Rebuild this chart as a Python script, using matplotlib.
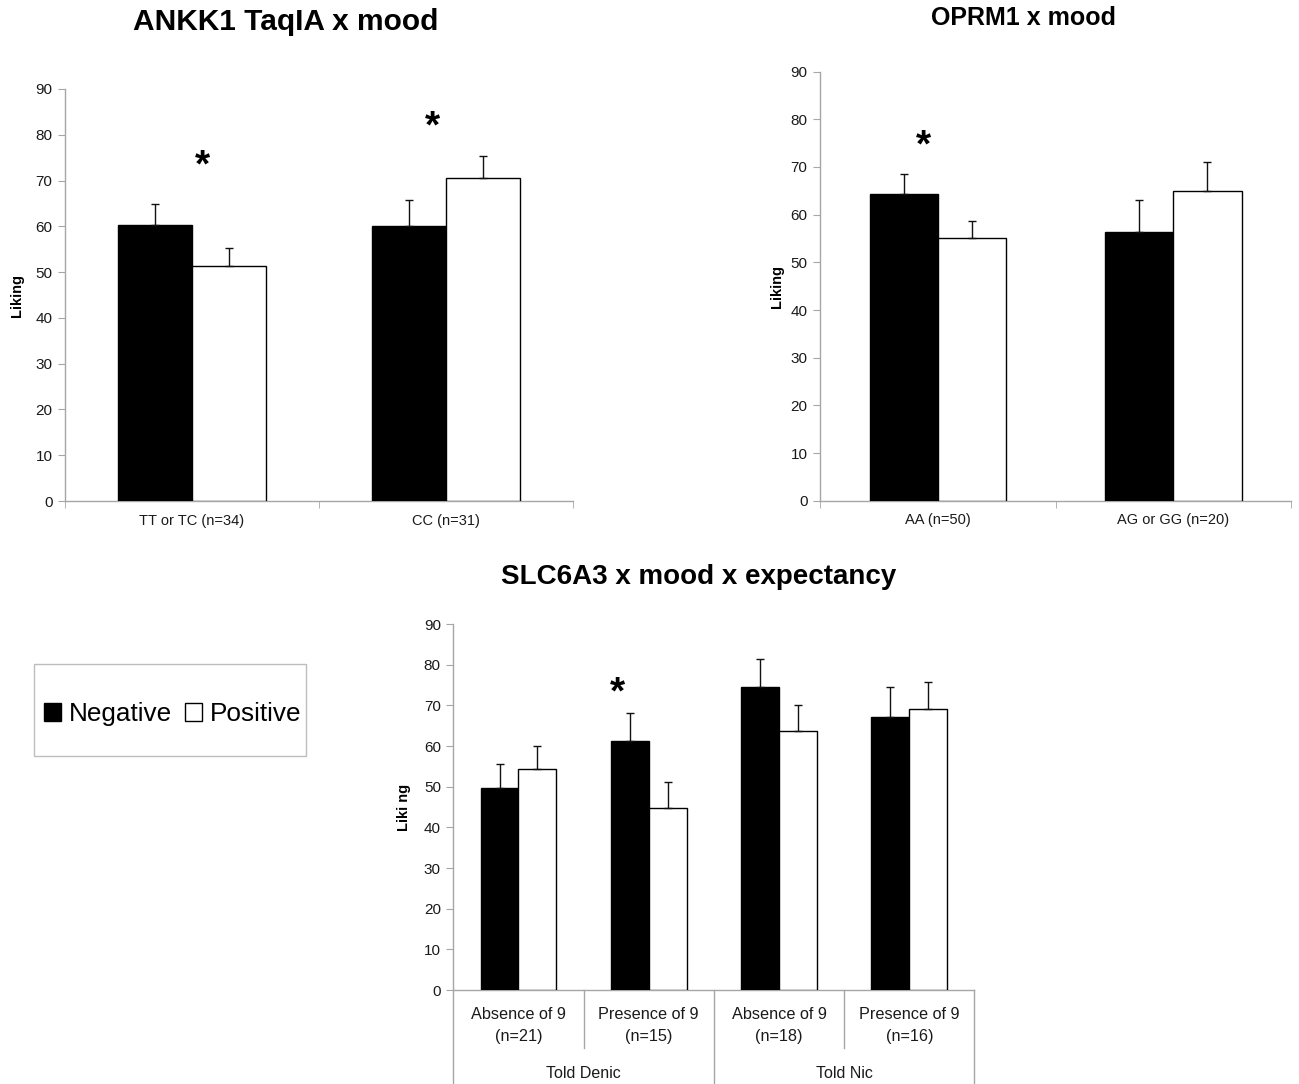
import matplotlib.pyplot as plt
from matplotlib.patches import Patch, Rectangle

plt.rcParams["font.family"] = ["Liberation Sans", "DejaVu Sans"]

# ANKK1 TaqIA x mood
ankk1_groups = ["TT or TC (n=34)", "CC (n=31)"]
ankk1_neg = [60.3, 60.0]
ankk1_neg_err = [4.5, 5.8]
ankk1_pos = [51.3, 70.5]
ankk1_pos_err = [3.9, 4.8]

# OPRM1 x mood
oprm1_groups = ["AA (n=50)", "AG or GG (n=20)"]
oprm1_neg = [64.3, 56.3]
oprm1_neg_err = [4.2, 6.7]
oprm1_pos = [55.1, 64.9]
oprm1_pos_err = [3.6, 6.1]

# SLC6A3 x mood x expectancy
slc_groups = ["Absence of 9\n(n=21)", "Presence of 9\n(n=15)",
              "Absence of 9\n(n=18)", "Presence of 9\n(n=16)"]
slc_outer = ["Told Denic", "Told Nic"]
slc_neg = [49.7, 61.2, 74.5, 67.1]
slc_neg_err = [5.9, 6.9, 7.0, 7.3]
slc_pos = [54.4, 44.8, 63.8, 69.0]
slc_pos_err = [5.6, 6.3, 6.2, 6.7]

AXIS_GREY = "#a6a6a6"
BAR_W = 0.29


def draw_panel(ax, n, neg, neg_err, pos, pos_err, ylabel):
    xs = list(range(n))
    err_kw = dict(ecolor="#111111", elinewidth=1.0, capsize=3.2, capthick=1.0)
    ax.bar([x - BAR_W / 2 for x in xs], neg, BAR_W, color="black",
           edgecolor="black", linewidth=1.0,
           yerr=[[0] * n, neg_err], error_kw=err_kw, zorder=3)
    ax.bar([x + BAR_W / 2 for x in xs], pos, BAR_W, color="white",
           edgecolor="black", linewidth=1.0,
           yerr=[[0] * n, pos_err], error_kw=err_kw, zorder=3)
    ax.set_xlim(-0.5, n - 0.5)
    ax.set_ylim(0, 90)
    ax.set_yticks(range(0, 91, 10))
    for side in ("top", "right"):
        ax.spines[side].set_visible(False)
    for side in ("left", "bottom"):
        ax.spines[side].set_color(AXIS_GREY)
        ax.spines[side].set_linewidth(1.0)
    ax.tick_params(axis="y", colors=AXIS_GREY, labelcolor="#1a1a1a",
                   labelsize=11, length=5, pad=4)
    ax.set_ylabel(ylabel, fontsize=10.5, fontweight="bold")
    ax.set_xticks(xs)


def star(ax, x, y):
    ax.text(x, y, "*", ha="center", va="center", fontsize=28,
            fontweight="bold", zorder=5)


fig = plt.figure(figsize=(12.99, 10.84), dpi=100)

# top-left
ax1 = fig.add_axes([0.0500, 0.5378, 0.3911, 0.3801])
draw_panel(ax1, 2, ankk1_neg, ankk1_neg_err, ankk1_pos, ankk1_pos_err, "Liking")
ax1.set_xticklabels(ankk1_groups)
ax1.set_xticks([-0.5, 0.5, 1.5], minor=True)
ax1.tick_params(axis="x", which="major", length=0, pad=9, labelsize=10.5,
                labelcolor="#1a1a1a")
ax1.tick_params(axis="x", which="minor", length=5, color=AXIS_GREY)
ax1.yaxis.set_label_coords(-0.081, 0.5)
star(ax1, 0.043, 73.0)
star(ax1, 0.945, 81.7)

# top-right
ax2 = fig.add_axes([0.6313, 0.5381, 0.3626, 0.3958])
draw_panel(ax2, 2, oprm1_neg, oprm1_neg_err, oprm1_pos, oprm1_pos_err, "Liking")
ax2.set_xticklabels(oprm1_groups)
ax2.set_xticks([-0.5, 0.5, 1.5], minor=True)
ax2.tick_params(axis="x", which="major", length=0, pad=9, labelsize=10.5,
                labelcolor="#1a1a1a")
ax2.tick_params(axis="x", which="minor", length=5, color=AXIS_GREY)
ax2.yaxis.set_label_coords(-0.0765, 0.5)
star(ax2, -0.063, 74.4)

# bottom
ax3 = fig.add_axes([0.3490, 0.0867, 0.4011, 0.3376])
draw_panel(ax3, 4, slc_neg, slc_neg_err, slc_pos, slc_pos_err, "Liki ng")
ax3.set_xticklabels(slc_groups, linespacing=1.6)
ax3.tick_params(axis="x", length=0, pad=12, labelsize=11.7, labelcolor="#1a1a1a")
ax3.yaxis.set_label_coords(-0.081, 0.5)
star(ax3, 0.757, 73.0)

trans = ax3.get_xaxis_transform()
for i, b in enumerate([-0.5, 0.5, 1.5, 2.5, 3.5]):
    y_end = -0.158 if i % 2 else -0.26
    ax3.plot([b, b], [0, y_end], color=AXIS_GREY, lw=1.0,
             transform=trans, clip_on=False)
for j, name in enumerate(slc_outer):
    ax3.text(2 * j + 0.5, -0.227, name, transform=trans, ha="center",
             va="center", fontsize=11.5, color="#1a1a1a")

# titles
fig.text(285.5 / 1299, 1 - 22 / 1084, "ANKK1 TaqIA x mood", ha="center",
         va="center", fontsize=21.5, fontweight="bold")
fig.text(1024 / 1299, 1 - 18 / 1084, "OPRM1 x mood", ha="center",
         va="center", fontsize=18, fontweight="bold")
fig.text(698.5 / 1299, 1 - 577 / 1084, "SLC6A3 x mood x expectancy",
         ha="center", va="center", fontsize=20, fontweight="bold")

# legend box
fig.patches.append(Rectangle((34 / 1299, 1 - 756 / 1084), 272 / 1299,
                             92 / 1084, transform=fig.transFigure,
                             facecolor="white", edgecolor="#bdbdbd", lw=1.0))
handles = [Patch(facecolor="black", edgecolor="black", label="Negative"),
           Patch(facecolor="white", edgecolor="black", label="Positive")]
fig.legend(handles=handles, loc="center", bbox_to_anchor=(173 / 1299, 0.341),
           ncol=2, frameon=False, fontsize=18.8, handlelength=0.65,
           handleheight=0.65, handletextpad=0.3, columnspacing=0.5,
           borderaxespad=0)

fig.savefig("out.png", dpi=100)
